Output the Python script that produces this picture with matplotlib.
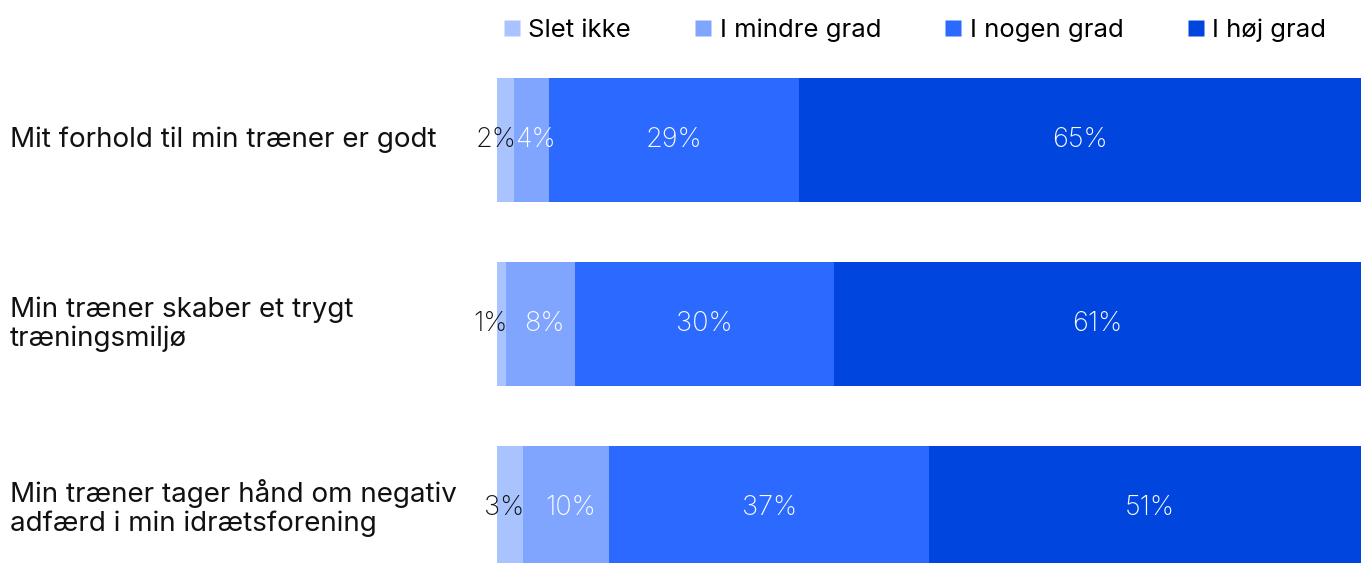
import numpy as np
import matplotlib
matplotlib.use("Agg")
import matplotlib.pyplot as plt
from matplotlib.lines import Line2D
import matplotlib.transforms as mtransforms

plt.rcParams['font.family'] = ['Inter', 'DejaVu Sans']

# data
categories = [
    "Mit forhold til min træner er godt",
    "Min træner skaber et trygt\ntræningsmiljø",
    "Min træner tager hånd om negativ\nadfærd i min idrætsforening",
]
series_names = ["Slet ikke", "I mindre grad", "I nogen grad", "I høj grad"]
slet_ikke = [2, 1, 3]
mindre_grad = [4, 8, 10]
nogen_grad = [29, 30, 37]
hoj_grad = [65, 61, 51]

colors = ["#A9C3FF", "#7FA5FF", "#2B69FF", "#0045DE"]
label_colors = ["#111111", "white", "white", "white"]

W, H = 1361, 563
fig = plt.figure(figsize=(W / 100, H / 100), dpi=100)
ax = fig.add_axes([497 / W, 0, 1 - 497 / W, 1])

y = np.arange(len(categories))
left = np.zeros(len(categories))
for i, (name, vals, c, lc) in enumerate(zip(series_names, [slet_ikke, mindre_grad, nogen_grad, hoj_grad], colors, label_colors)):
    vals = np.array(vals, dtype=float)
    ax.barh(y, vals, left=left, height=124 / 184, color=c, label=name, edgecolor='none')
    for yi, l, v in zip(y, left, vals):
        if i == 0:
            # tiny first segment: label sits on its right edge
            ax.text(l + v + 0.2, yi, f"{int(v)}%", ha='right', va='center',
                    color=lc, fontsize=19.5, fontweight='light')
        else:
            ax.text(l + v / 2 + (0.5 if i == 1 else 0), yi, f"{int(v)}%", ha='center', va='center',
                    color=lc, fontsize=19.5, fontweight='light')
    left += vals

ax.set_xlim(0, 100)
ax.set_ylim((H - 140) / 184, -140 / 184)
ax.axis('off')

trans = mtransforms.blended_transform_factory(fig.transFigure, ax.transData)
for yi, cat in zip(y, categories):
    ax.text(10 / W, yi, cat, transform=trans, ha='left', va='center',
            fontsize=20, color='#111111', linespacing=1.1)

handles = [Line2D([], [], marker='s', linestyle='none', markersize=11,
                  markerfacecolor=c, markeredgecolor='none') for c in colors]
fig.legend(handles, series_names, loc='center left', ncol=4,
           bbox_to_anchor=(504 / W, 1 - 30 / H), frameon=False,
           fontsize=18.5, handlelength=0.6, handletextpad=0.35,
           columnspacing=2.5, borderaxespad=0, borderpad=0)

fig.savefig("out.png", dpi=100)
